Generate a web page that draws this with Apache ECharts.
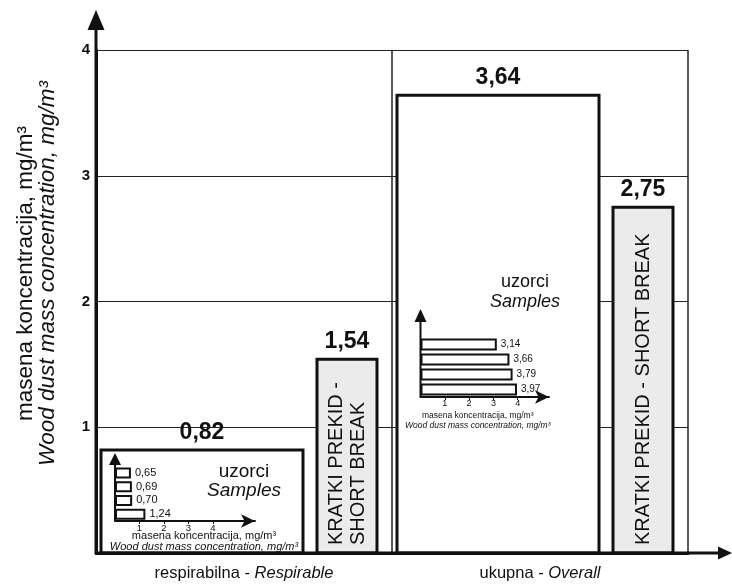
<!DOCTYPE html>
<html>
<head>
<meta charset="utf-8">
<script src="https://cdn.jsdelivr.net/npm/echarts@6/dist/echarts.min.js"></script>
<style>
  html, body { margin: 0; padding: 0; background: #fff; }
  #chart { width: 732px; height: 585px; }
</style>
</head>
<body>
<div id="chart"></div>
<script>
// ---- data ----
const categories = ['respirabilna - Respirable', 'ukupna - Overall'];
const samplesValues = [0.82, 3.64];
const shortBreakValues = [1.54, 2.75];
const shortBreakText = ['KRATKI PREKID -\nSHORT BREAK', 'KRATKI PREKID - SHORT BREAK'];
const sampleIds = ['1', '2', '3', '4'];
const respirableSampleValues = [0.65, 0.69, 0.70, 1.24];
const overallSampleValues = [3.14, 3.66, 3.79, 3.97];
const insetTicks = [1, 2, 3, 4];

// ---- layout / style ----
const FONT = '"Liberation Sans", Arial, Helvetica, sans-serif';
const INK = '#111';
const mainGrid = { left: 96, top: 50, width: 592, height: 503 };
const insetA = { left: 115, top: 466, width: 140, height: 55, pxPerUnit: 24.5, arrowTop: 453 };
const insetB = { left: 420.5, top: 337, width: 128.5, height: 60, pxPerUnit: 24.3, arrowTop: 309 };

const fmt = v => v.toFixed(2).replace('.', ',');

function arrow(x1, y1, x2, y2, lw, headLen, headHalf) {
  const dx = x2 - x1, dy = y2 - y1, len = Math.hypot(dx, dy);
  const ux = dx / len, uy = dy / len;
  const bx = x2 - ux * headLen, by = y2 - uy * headLen;
  const px = -uy, py = ux;
  return [
    { type: 'line', z: 100, shape: { x1, y1, x2: bx, y2: by }, style: { stroke: INK, lineWidth: lw } },
    { type: 'polygon', z: 100, shape: { points: [[x2, y2], [bx + px * headHalf, by + py * headHalf], [bx - px * headHalf, by - py * headHalf]] }, style: { fill: INK } }
  ];
}

// Bars placed inside each category band by fractions of the band width
function mainBar(startFrac, widthFrac, fill, innerTexts) {
  return function (params, api) {
    const i = api.value(0), v = api.value(1);
    const band = api.size([1, 0])[0];
    const base = api.coord([i, 0]);
    const top = api.coord([i, v]);
    const x = base[0] - band / 2 + band * startFrac;
    const w = band * widthFrac;
    const children = [
      { type: 'rect', shape: { x: x, y: top[1], width: w, height: base[1] - top[1] },
        style: { fill: fill, stroke: INK, lineWidth: 3 } },
      { type: 'text', x: x + w / 2, y: top[1] - 6,
        style: { text: fmt(v), font: 'bold 23px ' + FONT, fill: INK, align: 'center', verticalAlign: 'bottom' } }
    ];
    if (innerTexts) {
      children.push({ type: 'text', x: x + w / 2, y: base[1] - 8, rotation: Math.PI / 2,
        style: { text: innerTexts[params.dataIndex], font: '20px ' + FONT, lineHeight: 22, fill: INK,
                 align: 'left', verticalAlign: 'middle' } });
    }
    return { type: 'group', children };
  };
}

function insetAxes(idx, g, tickSize, nameSize, nameLine, nameGap, namePad) {
  return {
    x: {
      type: 'value', gridIndex: idx, min: 0, max: g.width / g.pxPerUnit, z: 10,
      axisLine: { show: true, lineStyle: { color: INK, width: 2 }, symbol: ['none', 'arrow'], symbolSize: [10, 14] },
      axisTick: { show: true, customValues: insetTicks, length: 3, lineStyle: { color: INK } },
      axisLabel: { customValues: insetTicks, fontSize: tickSize, fontFamily: FONT, color: INK, margin: 2 },
      splitLine: { show: false },
      name: '{a|masena koncentracija, mg/m³}\n{b|Wood dust mass concentration, mg/m³}',
      nameLocation: 'middle', nameGap: nameGap, nameMoveOverlap: false,
      nameTextStyle: {
        padding: namePad,
        rich: {
          a: { fontSize: nameSize, fontFamily: FONT, color: INK, lineHeight: nameLine },
          b: { fontSize: nameSize, fontFamily: FONT, fontStyle: 'italic', color: INK, lineHeight: nameLine }
        }
      }
    },
    y: {
      type: 'category', gridIndex: idx, data: sampleIds, inverse: true, z: 10,
      axisLine: { show: false }, axisTick: { show: false }, axisLabel: { show: false }, splitLine: { show: false }
    }
  };
}

const axA = insetAxes(1, insetA, 9.5, 11, 11, 9, [0, 0, 0, 38]);
const axB = insetAxes(2, insetB, 9, 8.5, 10, 14, [0, 14, 0, 0]);

function insetSeries(idx, values, barW, labelSize) {
  return {
    type: 'bar', xAxisIndex: idx, yAxisIndex: idx, z: 5, data: values, barWidth: barW,
    itemStyle: { color: '#fff', borderColor: INK, borderWidth: 2 },
    label: { show: true, position: 'right', distance: 4, formatter: p => fmt(p.value),
             fontSize: labelSize, fontFamily: FONT, color: INK },
    animation: false
  };
}

const chart = echarts.init(document.getElementById('chart'), null, { renderer: 'canvas' });

const option = {
  animation: false,
  backgroundColor: '#fff',
  textStyle: { fontFamily: FONT },
  title: [
    { text: 'uzorci', subtext: 'Samples', left: 244, top: 462, textAlign: 'center', padding: 0, itemGap: 0,
      textStyle: { fontSize: 19, fontWeight: 'normal', fontFamily: FONT, color: INK, lineHeight: 19 },
      subtextStyle: { fontSize: 19, fontStyle: 'italic', fontFamily: FONT, color: INK, lineHeight: 19 } },
    { text: 'uzorci', subtext: 'Samples', left: 525, top: 273, textAlign: 'center', padding: 0, itemGap: 0,
      textStyle: { fontSize: 18, fontWeight: 'normal', fontFamily: FONT, color: INK, lineHeight: 19 },
      subtextStyle: { fontSize: 18, fontStyle: 'italic', fontFamily: FONT, color: INK, lineHeight: 19 } }
  ],
  grid: [
    Object.assign({ containLabel: false }, mainGrid),
    { left: insetA.left, top: insetA.top, width: insetA.width, height: insetA.height, containLabel: false },
    { left: insetB.left, top: insetB.top, width: insetB.width, height: insetB.height, containLabel: false }
  ],
  xAxis: [
    {
      type: 'category', gridIndex: 0, data: categories,
      axisLine: { show: true, lineStyle: { color: INK, width: 3 } },
      axisTick: { show: false },
      splitLine: { show: true, lineStyle: { color: '#222', width: 1.5 } },
      axisLabel: {
        margin: 12,
        formatter: v => { const p = v.split(' - '); return '{a|' + p[0] + ' - }{b|' + p[1] + '}'; },
        rich: {
          a: { fontSize: 16.5, fontFamily: FONT, color: INK },
          b: { fontSize: 16.5, fontFamily: FONT, fontStyle: 'italic', color: INK }
        }
      }
    },
    axA.x, axB.x
  ],
  yAxis: [
    {
      type: 'value', gridIndex: 0, min: 0, max: 4, interval: 1,
      axisLine: { show: true, lineStyle: { color: INK, width: 3 } },
      axisTick: { show: false },
      splitLine: { show: true, lineStyle: { color: '#222', width: 1 } },
      axisLabel: { formatter: v => (v === 0 ? '' : String(v)), fontSize: 15, fontWeight: 'bold', fontFamily: FONT, color: INK, margin: 6 },
      name: '{a|masena koncentracija, mg/m³}\n{b|Wood dust mass concentration, mg/m³}',
      nameLocation: 'middle', nameGap: 37, nameRotate: 90,
      nameTextStyle: {
        padding: [0, 0, 0, 56],
        rich: {
          a: { fontSize: 22.5, fontFamily: FONT, color: INK, lineHeight: 22 },
          b: { fontSize: 22.5, fontFamily: FONT, fontStyle: 'italic', color: INK, lineHeight: 22 }
        }
      }
    },
    axA.y, axB.y
  ],
  series: [
    { type: 'custom', name: 'uzorci', xAxisIndex: 0, yAxisIndex: 0, z: 2,
      data: samplesValues.map((v, i) => [i, v]),
      renderItem: mainBar(5 / 296, 202 / 296, '#fff', null) },
    { type: 'custom', name: 'kratki prekid', xAxisIndex: 0, yAxisIndex: 0, z: 2,
      data: shortBreakValues.map((v, i) => [i, v]),
      renderItem: mainBar(221 / 296, 60 / 296, '#ebebeb', shortBreakText) },
    insetSeries(1, respirableSampleValues, 11, 11),
    insetSeries(2, overallSampleValues, 12, 10)
  ],
  graphic: [].concat(
    // main axes with arrow heads reaching past the plot frame
    arrow(mainGrid.left, mainGrid.top + mainGrid.height, mainGrid.left, 10, 3, 20, 8.5),
    arrow(mainGrid.left, mainGrid.top + mainGrid.height, 732, mainGrid.top + mainGrid.height, 3, 14, 6.5),
    // inset vertical axes
    arrow(insetA.left, insetA.top + insetA.height, insetA.left, insetA.arrowTop, 2, 12, 6),
    arrow(insetB.left, insetB.top + insetB.height, insetB.left, insetB.arrowTop, 2, 13, 6)
  )
};

chart.setOption(option);
</script>
</body>
</html>
